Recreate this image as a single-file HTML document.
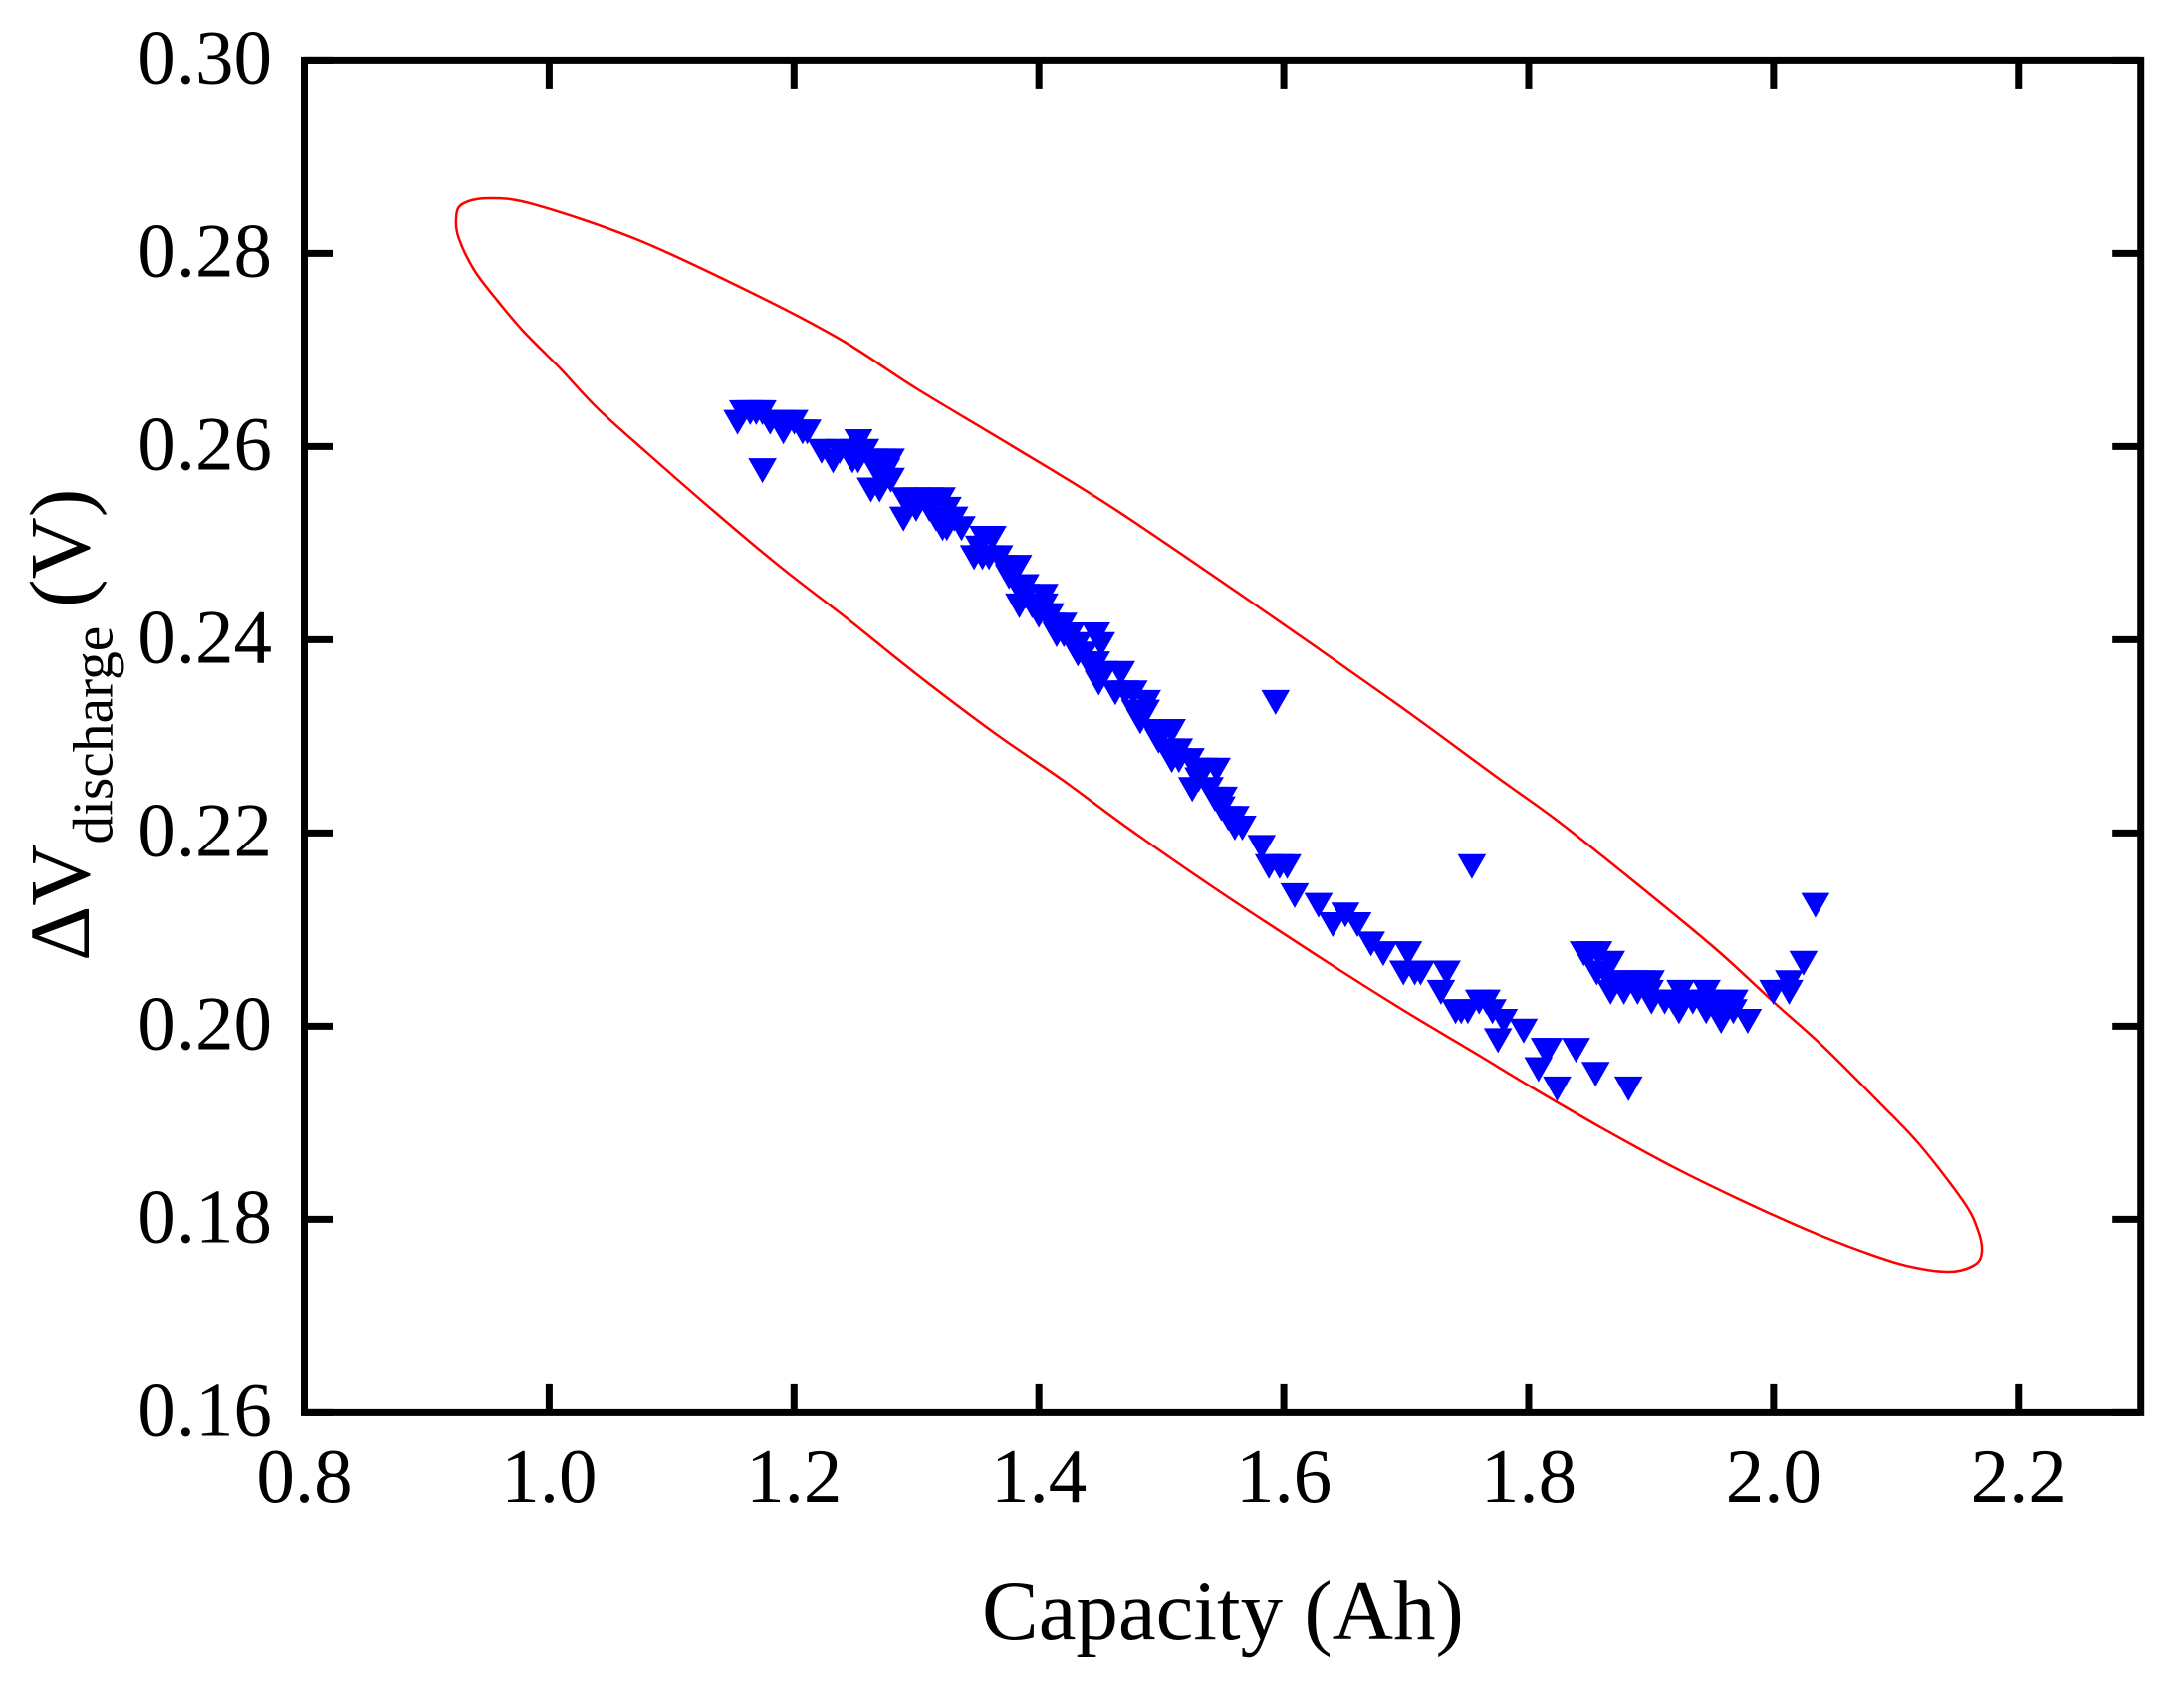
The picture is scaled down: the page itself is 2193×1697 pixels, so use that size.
<!DOCTYPE html>
<html lang="en">
<head>
<meta charset="utf-8">
<title>Capacity vs discharge voltage</title>
<style>
html,body{margin:0;padding:0;background:#fff;}
svg{display:block;}
text{font-family:"Liberation Serif",serif;fill:#000;}
</style>
</head>
<body>
<svg id="chart" xmlns="http://www.w3.org/2000/svg" width="2193" height="1697" viewBox="0 0 2193 1697">
  <rect x="0" y="0" width="2193" height="1697" fill="#ffffff"/>
  <g id="ellipse-layer"></g>
  <g id="marker-layer"></g>
  <g id="axis-layer"></g>
  <text x="986" y="1646" font-size="85">Capacity (Ah)</text>
  <text transform="translate(89,965) rotate(-90)" font-size="86">ΔV<tspan font-size="57.4" dy="23.4">discharge</tspan><tspan dy="-23.4" x="355">(V)</tspan></text>
</svg>
<script>
var xTicks = ["0.8","1.0","1.2","1.4","1.6","1.8","2.0","2.2"];
var yTicks = ["0.16","0.18","0.20","0.22","0.24","0.26","0.28","0.30"];

var capacity = [
1.1585,1.1642,1.1691,1.1742,
1.1539,1.1805,1.2002,
1.1913,1.2070,1.2108,
1.2526,
1.2225,1.2482,1.2582,
1.2319,1.2477,1.2523,1.2791,
1.1742,
1.2726,1.2791,
1.2628,
1.2902,1.2997,1.3105,1.3206,
1.2997,1.3105,1.3254,
1.2894,1.3160,1.3309,
1.3214,1.3249,1.3368,
1.3547,1.3620,
1.3512,
1.3471,1.3539,1.3593,1.3675,
1.3729,1.3829,
1.3756,
1.3824,1.3889,
1.3891,1.4043,
1.3840,1.3945,1.4043,
1.3999,1.4092,
1.4108,1.4198,
1.4145,1.4204,1.4261,1.4467,
1.4318,1.4508,
1.4318,1.4367,
1.4407,1.4467,
1.4532,1.4670,
1.4489,
1.4624,1.4705,1.4773,
1.4882,1.5933,
1.4787,1.4874,
1.4827,
1.4936,1.5004,1.5085,
1.4977,
1.5058,1.5144,
1.5085,1.5144,1.5239,
1.5302,1.5350,1.5451,
1.5304,
1.5253,1.5394,
1.5437,1.5508,
1.5491,
1.5546,1.5605,
1.5600,1.5662,
1.5819,
1.5879,1.5966,1.6028,1.7536,
1.6089,
1.6284,
1.6503,
1.6400,1.6601,
1.6712,
1.6812,1.7015,
1.6977,1.7070,1.7118,1.7330,
1.7284,
1.7595,1.7655,
1.7403,1.7449,1.7503,1.7704,
1.7796,
1.7959,
1.7750,
1.8132,1.8162,1.8387,
1.8080,
1.8547,
1.8232,1.8815,
2.0342,
2.0244,
2.0127,
1.9999,2.0127,
1.8450,1.8501,1.8569,
1.8672,
1.8556,1.8623,
1.8713,1.8797,1.8997,
1.8669,1.8778,1.8889,1.9241,1.9453,
1.9003,1.9111,1.9341,1.9558,1.9680,
1.9228,1.9450,1.9672,
1.9572,1.9789,
1.2645,1.2712,
1.2672,1.2753,
1.2374,
1.2699,
1.1899,
1.8854,1.8921,
1.8989,
1.9179,1.9450,
1.9558
];

var voltage = [
0.264,0.264,0.264,0.264,
0.263,0.263,0.263,
0.262,0.262,0.262,
0.261,
0.260,0.260,0.260,
0.259,0.259,0.259,0.259,
0.258,
0.257,0.257,
0.256,
0.255,0.255,0.255,0.255,
0.254,0.254,0.254,
0.253,0.253,0.253,
0.252,0.252,0.252,
0.251,0.251,
0.250,
0.249,0.249,0.249,0.249,
0.248,0.248,
0.247,
0.246,0.246,
0.245,0.245,
0.244,0.244,0.244,
0.243,0.243,
0.242,0.242,
0.241,0.241,0.241,0.241,
0.240,0.240,
0.239,0.239,
0.238,0.238,
0.237,0.237,
0.236,
0.235,0.235,0.235,
0.234,0.234,
0.233,0.233,
0.232,
0.231,0.231,0.231,
0.230,
0.229,0.229,
0.228,0.228,0.228,
0.227,0.227,0.227,
0.226,
0.225,0.225,
0.224,0.224,
0.223,
0.222,0.222,
0.221,0.221,
0.219,
0.217,0.217,0.217,0.217,
0.214,
0.213,
0.212,
0.211,0.211,
0.209,
0.208,0.208,
0.206,0.206,0.206,0.206,
0.204,
0.203,0.203,
0.202,0.202,0.202,0.202,
0.201,
0.200,
0.199,
0.198,0.198,0.198,
0.196,
0.1955,
0.194,0.194,
0.213,
0.207,
0.205,
0.204,0.204,
0.208,0.208,0.208,
0.207,
0.206,0.206,
0.205,0.205,0.205,
0.204,0.204,0.204,0.204,0.204,
0.203,0.203,0.203,0.203,0.203,
0.202,0.202,0.202,
0.201,0.201,
0.259,0.259,
0.258,0.258,
0.260,
0.256,
0.263,
0.205,0.205,
0.204,
0.203,0.203,
0.202
];

var ellipseCapacity = [
0.9240,0.9289,0.9517,0.9891,1.0729,1.1705,1.2396,1.2998,1.3811,1.4625,1.5682,1.6902,1.7737,1.8244,1.8908,1.9529,2.0017,2.0399,2.0860,2.1197,2.1552,2.1668,2.1701,2.1644,2.1430,2.1074,2.0684,2.0291,1.9749,1.9179,1.8583,1.8041,1.7553,1.7008,1.6468,1.5926,1.5411,1.4730,1.4191,1.3649,1.2998,1.2453,1.1914,1.1371,1.0802,1.0395,1.0091,0.9793,0.9577,0.9391,0.9265
];
var ellipseVoltage = [
0.28355,0.28509,0.28571,0.28502,0.28138,0.27561,0.27097,0.26602,0.25984,0.25347,0.24437,0.23355,0.22581,0.22118,0.21448,0.20798,0.20231,0.19798,0.19213,0.18767,0.18182,0.17891,0.17667,0.17530,0.17458,0.17523,0.17685,0.17881,0.18190,0.18543,0.18956,0.19355,0.19729,0.20141,0.20571,0.21018,0.21448,0.22048,0.22550,0.23025,0.23646,0.24200,0.24729,0.25303,0.25932,0.26396,0.26808,0.27190,0.27512,0.27822,0.28148
];

var SVGNS = 'http://www.w3.org/2000/svg';
var PLOT = {left:305.5, right:2149.7, top:60.4, bottom:1418.4};
var XMIN = 0.8, XMAX = 2.3, YMIN = 0.16, YMAX = 0.30;

function xScale(v){ return PLOT.left + (v - XMIN) / (XMAX - XMIN) * (PLOT.right - PLOT.left); }
function yScale(v){ return PLOT.bottom - (v - YMIN) / (YMAX - YMIN) * (PLOT.bottom - PLOT.top); }

var ellipseLayer = document.getElementById('ellipse-layer');
var markerLayer = document.getElementById('marker-layer');
var axisLayer = document.getElementById('axis-layer');

/* ellipse: closed smooth curve through the read outline points */
var n = ellipseCapacity.length;
function ex(k){ return xScale(ellipseCapacity[(k + n) % n]); }
function ey(k){ return yScale(ellipseVoltage[(k + n) % n]); }
var d = 'M' + ex(0).toFixed(1) + ' ' + ey(0).toFixed(1);
for (var e = 0; e < n; e++) {
  var c1x = ex(e) + (ex(e + 1) - ex(e - 1)) / 6;
  var c1y = ey(e) + (ey(e + 1) - ey(e - 1)) / 6;
  var c2x = ex(e + 1) - (ex(e + 2) - ex(e)) / 6;
  var c2y = ey(e + 1) - (ey(e + 2) - ey(e)) / 6;
  d += ' C' + c1x.toFixed(1) + ' ' + c1y.toFixed(1) + ' ' + c2x.toFixed(1) + ' ' + c2y.toFixed(1) + ' ' + ex(e + 1).toFixed(1) + ' ' + ey(e + 1).toFixed(1);
}
var ellipse = document.createElementNS(SVGNS, 'path');


ellipse.setAttribute('d', d + ' Z');
ellipse.setAttribute('fill', 'none');
ellipse.setAttribute('stroke', '#ff0000');
ellipse.setAttribute('stroke-width', '2.5');
ellipse.setAttribute('stroke-linejoin', 'round');
ellipseLayer.appendChild(ellipse);

/* markers */
for (var i = 0; i < capacity.length; i++) {
  var cx = xScale(capacity[i]);
  var cy = yScale(voltage[i]);
  var tri = document.createElementNS(SVGNS, 'polygon');
  
  
  tri.setAttribute('points',
    (cx - 14.3).toFixed(1) + ',' + (cy - 7.7).toFixed(1) + ' ' +
    (cx + 14.3).toFixed(1) + ',' + (cy - 7.7).toFixed(1) + ' ' +
    cx.toFixed(1) + ',' + (cy + 17.3).toFixed(1));
  tri.setAttribute('fill', '#0000ff');
  markerLayer.appendChild(tri);
}

/* ticks and labels */
var TICK = 28.5;
function tickLine(x1, y1, x2, y2) {
  var l = document.createElementNS(SVGNS, 'line');
  
  
  l.setAttribute('x1', x1);
  l.setAttribute('y1', y1);
  l.setAttribute('x2', x2);
  l.setAttribute('y2', y2);
  l.setAttribute('stroke', '#000');
  l.setAttribute('stroke-width', '7');
  axisLayer.appendChild(l);
}
xTicks.forEach(function (t) {
  var px = xScale(parseFloat(t));
  tickLine(px, PLOT.bottom, px, PLOT.bottom - TICK);
  tickLine(px, PLOT.top, px, PLOT.top + TICK);
  var label = document.createElementNS(SVGNS, 'text');
  
  
  label.setAttribute('x', px);
  label.setAttribute('y', 1508);
  label.setAttribute('font-size', '77');
  label.setAttribute('text-anchor', 'middle');
  label.textContent = t;
  axisLayer.appendChild(label);
});
yTicks.forEach(function (t) {
  var py = yScale(parseFloat(t));
  tickLine(PLOT.left, py, PLOT.left + TICK, py);
  tickLine(PLOT.right, py, PLOT.right - TICK, py);
  var label = document.createElementNS(SVGNS, 'text');
  
  
  label.setAttribute('x', 273);
  label.setAttribute('y', py + 23);
  label.setAttribute('font-size', '77');
  label.setAttribute('text-anchor', 'end');
  label.textContent = t;
  axisLayer.appendChild(label);
});

/* frame */
var frame = document.createElementNS(SVGNS, 'rect');


frame.setAttribute('x', PLOT.left);
frame.setAttribute('y', PLOT.top);
frame.setAttribute('width', PLOT.right - PLOT.left);
frame.setAttribute('height', PLOT.bottom - PLOT.top);
frame.setAttribute('fill', 'none');
frame.setAttribute('stroke', '#000');
frame.setAttribute('stroke-width', '7');
axisLayer.appendChild(frame);
</script>
</body>
</html>
